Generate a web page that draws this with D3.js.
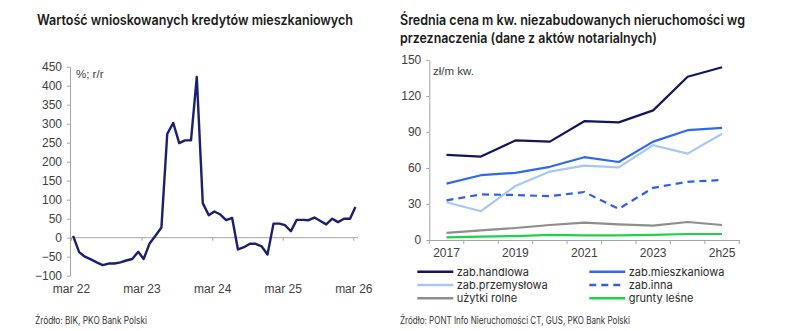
<!DOCTYPE html>
<html>
<head>
<meta charset="utf-8">
<script src="https://cdn.jsdelivr.net/npm/d3@7"></script>
<style>
  body { margin: 0; background: #fff; }
  svg { display: block; }
</style>
</head>
<body>
<svg id="chart" width="799" height="331"></svg>
<script>
// ---- Left panel: value of mortgage applications, % y/y (monthly) ----
const loanMonths = d3.range(49).map(i => new Date(2022, 2 + i, 12));
const loanValues = [5, -38, -50, -57, -65, -72, -68, -68, -65, -60, -56, -37, -56, -15, 5, 27,
  273, 302, 249, 256, 256, 423, 91, 59, 69, 61, 46, 52, -31, -25, -16, -16, -23, -44,
  37, 37, 33, 17, 47, 47, 46, 53, 44, 35, 50, 41, 50, 50, 81];
const loanTickDates = [0, 1, 2, 3, 4].map(k => new Date(2022 + k, 2, 1));
const loanTickLabels = ["mar 22", "mar 23", "mar 24", "mar 25", "mar 26"];
const loanYTicks = [-100, -50, 0, 50, 100, 150, 200, 250, 300, 350, 400, 450];

// ---- Right panel: average price per m² of undeveloped land by use ----
const priceCategories = ["2017", "2018", "2019", "2020", "2021", "2022", "2023", "2024", "2h25"];
const priceTickLabels = ["2017", "2019", "2021", "2023", "2h25"];
const priceYTicks = [0, 30, 60, 90, 120, 150];
const seriesNames = ["zab.handlowa", "zab.mieszkaniowa", "zab.przemysłowa", "zab.inna", "użytki rolne", "grunty leśne"];
const handlowa     = [71, 69.5, 83, 82, 99, 98, 108, 136, 144];
const mieszkaniowa = [47, 54, 56, 61, 69, 65, 82, 91.5, 93.5];
const przemyslowa  = [31.5, 24, 45, 57, 62, 60.5, 79, 72, 88.5];
const inna         = [33, 38, 37.5, 36.5, 40, 26, 43.5, 48.5, 50];
const rolne        = [6, 8, 10, 12.5, 14.5, 13, 12, 15, 12.5];
const lesne        = [2.2, 2.8, 3.3, 4.3, 3.9, 3.9, 4.2, 5, 5];
const seriesColors = ["#15155e", "#3168f2", "#a9c7f4", "#2f60ea", "#8e8e8e", "#1fd24a"];
const seriesDashes = [null, null, null, "7,5", null, null];

const svg = d3.select("#chart");
const tickFont = "'Liberation Sans', Arial, sans-serif";
const headFont = "Inter, 'Noto Sans', sans-serif";
const axisColor = "#a6a6a6";
const labelColor = "#404040";

// Titles
function title(x, y, text, len) {
  svg.append("text").attr("x", x).attr("y", y).text(text)
    .attr("font-family", headFont).attr("font-weight", 600).attr("font-size", 14)
    .attr("fill", "#1a1a1a").attr("textLength", len).attr("lengthAdjust", "spacingAndGlyphs");
}
title(37, 25, "Wartość wnioskowanych kredytów mieszkaniowych", 316);
title(400, 25, "Średnia cena m kw. niezabudowanych nieruchomości wg", 345);
title(400, 43, "przeznaczenia (dane z aktów notarialnych)", 257);

// Sources
function source(x, text, len) {
  svg.append("text").attr("x", x).attr("y", 324).text(text)
    .attr("font-family", headFont).attr("font-size", 10).attr("fill", "#333")
    .attr("textLength", len).attr("lengthAdjust", "spacingAndGlyphs");
}
source(35, "Źródło: BIK, PKO Bank Polski", 112);
source(400, "Źródło: PONT Info Nieruchomości CT, GUS, PKO Bank Polski", 230);

// ---------- Left chart ----------
const xL = d3.scaleTime().domain([loanTickDates[0], loanTickDates[4]]).range([71, 353.3]);
const yL = d3.scaleLinear().domain([-100, 450]).range([275.7, 66.7]);
const left = svg.append("g");

// y axis
const yAxisL = left.append("g").attr("transform", "translate(70,0)")
  .call(d3.axisLeft(yL).tickValues(loanYTicks).tickSize(3).tickPadding(5).tickSizeOuter(0));
// x axis at zero, labels pushed to the bottom of the plot
const xAxisL = left.append("g").attr("transform", `translate(0,${yL(0)})`)
  .call(d3.axisBottom(xL).tickValues(loanTickDates).tickSize(3).tickSizeOuter(0)
    .tickFormat((d, i) => loanTickLabels[i]));
xAxisL.select(".domain").attr("d", `M70,0H358`);
xAxisL.selectAll(".tick text").attr("y", 289 - yL(0)).attr("dy", "0.35em");

[yAxisL, xAxisL].forEach(a => {
  a.select(".domain").attr("stroke", axisColor);
  a.selectAll(".tick line").attr("stroke", axisColor);
  a.selectAll(".tick text").attr("font-family", tickFont).attr("font-size", 12).attr("fill", labelColor);
});

left.append("text").attr("x", 76).attr("y", 78).text("%; r/r")
  .attr("font-family", tickFont).attr("font-size", 11.5).attr("fill", labelColor);

left.append("path")
  .datum(loanValues)
  .attr("fill", "none").attr("stroke", "#1b1f6e").attr("stroke-width", 2.4)
  .attr("stroke-linejoin", "round")
  .attr("d", d3.line().x((d, i) => xL(loanMonths[i])).y(d => yL(d)));

// ---------- Right chart ----------
const xR = d3.scaleBand().domain(priceCategories).range([429.3, 739.3]).padding(0);
const yR = d3.scaleLinear().domain([0, 150]).range([240, 60]);
const right = svg.append("g");

const yAxisR = right.append("g").attr("transform", "translate(429.3,0)")
  .call(d3.axisLeft(yR).tickValues(priceYTicks).tickSize(3).tickPadding(5).tickSizeOuter(0));
const xAxisR = right.append("g").attr("transform", "translate(0,240)")
  .call(d3.axisBottom(xR).tickValues(priceTickLabels).tickSize(0).tickPadding(8).tickSizeOuter(0));
// category boundary tick marks
const bounds = priceCategories.map(c => xR(c)).concat([xR.range()[1]]);
xAxisR.selectAll(".bound").data(bounds).enter().append("line").attr("class", "bound")
  .attr("x1", d => d).attr("x2", d => d).attr("y1", 0).attr("y2", 4).attr("stroke", axisColor);

[yAxisR, xAxisR].forEach(a => {
  a.select(".domain").attr("stroke", axisColor);
  a.selectAll(".tick line").attr("stroke", axisColor);
  a.selectAll(".tick text").attr("font-family", tickFont).attr("font-size", 12).attr("fill", labelColor);
});

right.append("text").attr("x", 433).attr("y", 75).text("zł/m kw.")
  .attr("font-family", tickFont).attr("font-size", 11.5).attr("fill", labelColor);

const allSeries = [handlowa, mieszkaniowa, przemyslowa, inna, rolne, lesne];
const lineR = d3.line().x((d, i) => xR(priceCategories[i]) + xR.bandwidth() / 2).y(d => yR(d));
// draw lighter series first so darker ones sit on top
[5, 4, 2, 3, 1, 0].forEach(k => {
  right.append("path").datum(allSeries[k])
    .attr("fill", "none").attr("stroke", seriesColors[k]).attr("stroke-width", 2.2)
    .attr("stroke-dasharray", seriesDashes[k]).attr("stroke-linejoin", "round")
    .attr("d", lineR);
});

// Legend (two columns)
const legend = right.append("g");
seriesNames.forEach((name, k) => {
  const col = k % 2, row = Math.floor(k / 2);
  const x0 = col === 0 ? 417.3 : 589.3;
  const yy = 271.7 + row * 13.3;
  legend.append("line").attr("x1", x0).attr("x2", x0 + 36).attr("y1", yy).attr("y2", yy)
    .attr("stroke", seriesColors[k]).attr("stroke-width", 2.4).attr("stroke-dasharray", seriesDashes[k]);
  legend.append("text").attr("x", x0 + 39.4).attr("y", yy).attr("dy", "0.35em").text(name)
    .attr("font-family", headFont).attr("font-size", 11).attr("fill", "#2a2a2a");
});
</script>
</body>
</html>
